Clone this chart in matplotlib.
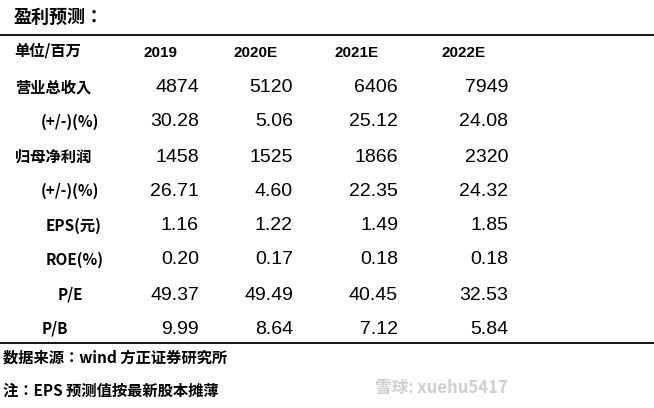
import matplotlib
matplotlib.use("Agg")
import matplotlib.pyplot as plt
from matplotlib import font_manager as fm

title = "盈利预测："
unit_label = "单位/百万"
years = ["2019", "2020E", "2021E", "2022E"]
row_labels = ["营业总收入", "(+/-)(%)", "归母净利润", "(+/-)(%)", "EPS(元)", "ROE(%)", "P/E", "P/B"]
values = [
    ["4874", "5120", "6406", "7949"],
    ["30.28", "5.06", "25.12", "24.08"],
    ["1458", "1525", "1866", "2320"],
    ["26.71", "4.60", "22.35", "24.32"],
    ["1.16", "1.22", "1.49", "1.85"],
    ["0.20", "0.17", "0.18", "0.18"],
    ["49.37", "49.49", "40.45", "32.53"],
    ["9.99", "8.64", "7.12", "5.84"],
]
source = "数据来源：wind 方正证券研究所"
note = "注：EPS 预测值按最新股本摊薄"
watermark = "雪球: xuehu5417"

names = {f.name for f in fm.fontManager.ttflist}
numfont = "Liberation Sans Narrow" if "Liberation Sans Narrow" in names else "Liberation Sans"
cjk_path = None
for f in fm.fontManager.ttflist:
    if "CJK" in f.name and ("SC" in f.name or cjk_path is None):
        cjk_path = f.fname
        if "SC" in f.name:
            break
if cjk_path:
    cjkp = fm.FontProperties(fname=cjk_path)
else:
    cjkp = fm.FontProperties(family="Noto Sans CJK SC")

def cp(size, bold=False):
    p = cjkp.copy()
    p.set_size(size)
    if bold:
        p.set_weight("bold")
    return p

fig = plt.figure(figsize=(6.54, 4.08), dpi=100)
ax = fig.add_axes([0, 0, 1, 1])
ax.set_xlim(0, 654)
ax.set_ylim(408, 0)
ax.axis("off")

ax.text(14, 17, title, fontproperties=cp(13, True), va="center")
ax.plot([0, 654], [35, 35], color="black", lw=1.3)
ax.plot([0, 654], [343, 343], color="black", lw=1.3)
ax.text(14, 51, unit_label, fontproperties=cp(11, True), va="center")
col_centers = [160, 256, 357, 464]
col_right = [199, 293, 398, 508]
for x, y in zip(col_centers, years):
    ax.text(x, 53, y, fontsize=11, fontweight="bold", family=numfont, ha="center", va="center")

row_y = [88, 122, 157, 191, 226, 260, 295, 329]
label_x = [15, 70, 15, 70, 74, 75, 70, 55]
for i, (lab, y) in enumerate(zip(row_labels, row_y)):
    if i in (0, 2):
        ax.text(label_x[i], y, lab, fontproperties=cp(11), ha="left", va="center")
    else:
        ax.text(label_x[i], y, lab, fontproperties=cp(11), ha="center", va="center")
    for x, v in zip(col_right, values[i]):
        ax.text(x, y, v, fontsize=14, family=numfont, ha="right", va="center")

ax.text(3, 358, source, fontproperties=cp(11), va="center")
ax.text(3, 391, note, fontproperties=cp(11), va="center")
ax.text(508, 388, watermark, fontproperties=cp(12), color="#d0d0d0", ha="right", va="center")

fig.savefig("out.png", dpi=100)
